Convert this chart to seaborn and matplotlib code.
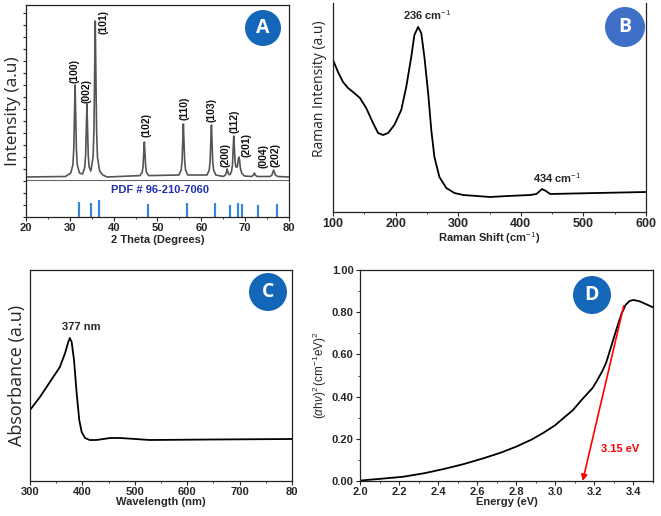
import numpy as np
import pandas as pd
import matplotlib
matplotlib.use("Agg")
import matplotlib.pyplot as plt
import seaborn as sns
from matplotlib.patches import Ellipse
from matplotlib.ticker import MultipleLocator

# ---------------- data ----------------
# Panel A: XRD pattern (2 theta, intensity a.u.)
xrd_theta = [20, 29, 30.2, 30.7, 30.9, 31.05, 31.2, 31.35, 31.5, 31.7, 32.2,
             32.9, 33.4, 33.6, 33.75, 33.9, 34.05, 34.2, 34.4, 34.8,
             35.3, 35.5, 35.65, 35.8, 35.95, 36.1, 36.3, 36.8, 37.5, 38.5,
             46.0, 46.5, 46.7, 46.85, 47.0, 47.15, 47.3, 47.5, 48.0,
             54.9, 55.4, 55.6, 55.75, 55.9, 56.05, 56.2, 56.4, 56.9,
             61.3, 61.8, 62.0, 62.15, 62.3, 62.45, 62.6, 62.8, 63.3,
             65.0, 65.5, 65.75, 65.9, 66.05, 66.3, 66.6, 66.9, 67.1, 67.25, 67.4, 67.55, 67.7, 67.9,
             68.2, 68.45, 68.6, 68.75, 68.9, 69.2, 69.8,
             71.5, 71.9, 72.1, 72.3, 72.7,
             75.7, 76.1, 76.3, 76.5, 76.7, 76.9, 77.4, 80]
xrd_int = [40, 40.5, 44, 52, 68, 100, 132, 100, 68, 52, 44,
           43, 49.5, 62, 87, 113, 87, 62, 50, 46,
           60, 87, 141, 196, 141, 87, 60, 46, 42, 40,
           41.4, 44.5, 50.5, 63, 75, 63, 50.5, 44.5, 41.4,
           42, 47, 56, 74, 93, 74, 56, 47, 42,
           42, 47, 55.6, 74, 92, 74, 55.6, 47, 42,
           40.5, 42, 45, 48, 45, 42.5, 42.5, 46, 52, 67, 81, 68, 55, 50,
           50, 58, 60, 56, 49, 44, 41,
           40.5, 42, 44, 42, 40.5,
           40.5, 42, 44.5, 47, 44.5, 42, 40.5, 40]
hkl_labels = ["(100)", "(002)", "(101)", "(102)", "(110)", "(103)", "(200)", "(112)", "(201)", "(004)", "(202)"]
hkl_x = [31.0, 33.9, 37.7, 47.6, 56.2, 62.3, 65.6, 67.6, 70.4, 74.2, 76.9]
hkl_y = [134, 114, 207, 80, 97, 95, 50, 84, 60, 49, 50]
pdf_pos = [32.1, 34.8, 36.6, 47.8, 56.8, 63.2, 66.6, 68.3, 69.3, 72.9, 77.3]
pdf_h = [15, 14, 17, 13, 14, 14, 12, 14, 13, 12, 13]

# Panel B: Raman
raman_x = [100, 108, 116, 124, 132, 143, 153, 164, 172, 180, 188, 198, 209, 217, 225, 230, 236,
           241, 246, 252, 257, 262, 270, 281, 294, 308, 351, 380, 415, 425, 434, 440, 447, 521, 600]
raman_y = [152, 140, 130, 124, 120, 114, 104, 89, 79, 77, 79, 87, 102, 125, 155, 177, 185,
           179, 155, 119, 82, 55, 35, 24, 19, 17, 15, 16, 17, 18, 23, 21, 18, 19, 20]

# Panel C: UV-Vis absorbance
uv_x = [300, 319, 338, 357, 367, 373, 376, 379.5, 384, 389, 394, 398.6, 405, 414, 427, 453, 472, 529, 650, 800]
uv_y = [71, 84, 99, 114, 128, 139, 143, 139, 121, 88, 61, 49, 43, 41, 41, 43, 43, 41, 41.5, 42]

# Panel D: Tauc plot
tauc_e = [2.0, 2.1, 2.22, 2.33, 2.43, 2.53, 2.63, 2.72, 2.80, 2.88, 2.94, 3.0, 3.04, 3.09, 3.14,
          3.19, 3.21, 3.24, 3.26, 3.28, 3.30, 3.32, 3.34, 3.36, 3.38, 3.40, 3.43, 3.46, 3.5]
tauc_v = [0.002, 0.01, 0.02, 0.037, 0.057, 0.08, 0.107, 0.134, 0.163, 0.197, 0.229, 0.265, 0.297, 0.336, 0.39,
          0.44, 0.47, 0.52, 0.56, 0.62, 0.68, 0.74, 0.795, 0.835, 0.853, 0.858, 0.852, 0.84, 0.823]
gap_line_e = [3.35, 3.14]
gap_line_v = [0.83, 0.0]

# ---------------- style ----------------
sns.set_theme(style="ticks")
plt.rcParams['font.family'] = ['Liberation Sans', 'DejaVu Sans']
plt.rcParams['mathtext.fontset'] = 'custom'
plt.rcParams['mathtext.rm'] = 'Liberation Sans'
plt.rcParams['mathtext.bf'] = 'Liberation Sans:bold'
plt.rcParams['mathtext.it'] = 'Liberation Sans:italic'

W, H = 661, 516
fig = plt.figure(figsize=(W / 100, H / 100), dpi=100)


def ax_at(l, r, t, b):
    return fig.add_axes([l / W, (H - b) / H, (r - l) / W, (b - t) / H])


def style_ticks(ax, size=8):
    for lab in ax.get_xticklabels() + ax.get_yticklabels():
        lab.set_fontweight('bold')
        lab.set_fontsize(size)
    ax.tick_params(axis='both', which='major', length=3, width=0.8, pad=1.5)
    ax.tick_params(axis='both', which='minor', length=1.5, width=0.6)
    for s in ax.spines.values():
        s.set_linewidth(0.9)
        s.set_color('#222222')


def badge(cx, cy, r, letter, color):
    e = Ellipse((cx / W, 1 - cy / H), 2 * r / W, 2 * r / H, transform=fig.transFigure,
                facecolor=color, edgecolor='none', zorder=10)
    fig.add_artist(e)
    fig.text(cx / W, 1 - cy / H, letter, color='white', fontsize=14, fontweight='bold',
             family=['Open Sans', 'DejaVu Sans'], ha='center', va='center', zorder=11)


# ---------------- Panel A ----------------
axA = ax_at(26, 289, 5, 217)
sns.lineplot(x=xrd_theta, y=xrd_int, ax=axA, color='#555555', linewidth=1.2, sort=False)
axA.axhline(37, color='#666666', linewidth=0.8)
axA.vlines(pdf_pos, 0, pdf_h, color='#3a86d6', linewidth=1.6)
axA.set_xlim(20, 80)
axA.set_ylim(0, 212)
axA.xaxis.set_major_locator(MultipleLocator(10))
axA.xaxis.set_minor_locator(MultipleLocator(5))
axA.yaxis.set_major_locator(MultipleLocator(12))
axA.set_yticklabels([])
for lab, x, y in zip(hkl_labels, hkl_x, hkl_y):
    va = 'top' if lab == "(101)" else 'bottom'
    axA.text(x, y, lab, rotation=90, ha='center', va=va, fontsize=7.5, fontweight='bold', color='#111111')
axA.text(50.6, 27, "PDF # 96-210-7060", color='#1f2fb0', fontsize=8, fontweight='bold', ha='center', va='center')
axA.set_xlabel("2 Theta (Degrees)", fontsize=8, fontweight='bold', labelpad=1)
axA.set_ylabel("Intensity (a.u)", fontsize=12.5, labelpad=0, family=['Open Sans', 'DejaVu Sans'])
style_ticks(axA)
axA.tick_params(axis='y', length=2)

# ---------------- Panel B ----------------
axB = ax_at(333, 646, 3, 212)
sns.lineplot(x=raman_x, y=raman_y, ax=axB, color='black', linewidth=1.3)
axB.set_xlim(100, 600)
axB.set_ylim(0, 209)
axB.xaxis.set_major_locator(MultipleLocator(100))
axB.xaxis.set_minor_locator(MultipleLocator(50))
axB.set_yticks([])
axB.text(250, 197, "236 cm$^{-1}$", fontsize=8, fontweight='bold', ha='center', va='center')
axB.text(458, 34, "434 cm$^{-1}$", fontsize=8, fontweight='bold', ha='center', va='center')
axB.set_xlabel("Raman Shift (cm$^{-1}$)", fontsize=8, fontweight='bold', labelpad=0)
axB.set_ylabel("Raman Intensity (a.u)", fontsize=10, family=['Open Sans', 'DejaVu Sans'])
axB.yaxis.set_label_coords(-0.018, 0.59)
style_ticks(axB, 9)
axB.spines['top'].set_visible(False)

# ---------------- Panel C ----------------
axC = ax_at(30, 292, 270, 481)
sns.lineplot(x=uv_x, y=uv_y, ax=axC, color='black', linewidth=1.3)
axC.set_xlim(300, 800)
axC.set_ylim(0, 211)
axC.set_xticks([300, 400, 500, 600, 700, 800])
axC.set_xticklabels(["300", "400", "500", "600", "700", "80"])
axC.xaxis.set_minor_locator(MultipleLocator(50))
axC.set_yticks([])
axC.text(397, 154, "377 nm", fontsize=8, fontweight='bold', ha='center', va='center')
axC.set_xlabel("Wavelength (nm)", fontsize=8, fontweight='bold', labelpad=0)
axC.set_ylabel("Absorbance (a.u)", fontsize=13, labelpad=3, family=['Open Sans', 'DejaVu Sans'])
style_ticks(axC)

# ---------------- Panel D ----------------
axD = ax_at(360, 653, 270, 481)
sns.lineplot(x=tauc_e, y=tauc_v, ax=axD, color='black', linewidth=1.3)
axD.annotate("", xy=(gap_line_e[1], gap_line_v[1]), xytext=(gap_line_e[0], gap_line_v[0]),
             arrowprops=dict(arrowstyle='-|>', color='red', lw=1.2, mutation_scale=9, shrinkA=0, shrinkB=0))
axD.text(3.33, 0.15, "3.15 eV", color='red', fontsize=8, fontweight='bold', ha='center', va='center')
axD.set_xlim(2.0, 3.5)
axD.set_ylim(0, 1.0)
axD.set_xticks([2.0, 2.2, 2.4, 2.6, 2.8, 3.0, 3.2, 3.4])
axD.set_xticklabels(["2.0", "2.2", "2.4", "2.6", "2.8", "3.0", "3.2", "3.4"])
axD.xaxis.set_minor_locator(MultipleLocator(0.1))
axD.set_yticks([0, 0.2, 0.4, 0.6, 0.8, 1.0])
axD.set_yticklabels(["0.00", "0.20", "0.40", "0.60", "0.80", "1.00"])
axD.yaxis.set_minor_locator(MultipleLocator(0.1))
axD.set_xlabel("Energy (eV)", fontsize=8, fontweight='bold', labelpad=0)
axD.set_ylabel(r"$(\alpha\mathrm{h}\nu)^2\,(\mathrm{cm}^{-1}\mathrm{eV})^2$", fontsize=8.5, labelpad=2)
style_ticks(axD)

# ---------------- badges ----------------
badge(263, 28, 18, "A", '#1466b8')
badge(625, 27, 20, "B", '#3f6fc6')
badge(268, 292, 19, "C", '#1466b8')
badge(592, 295, 19, "D", '#1466b8')

fig.savefig("out.png", dpi=100)
